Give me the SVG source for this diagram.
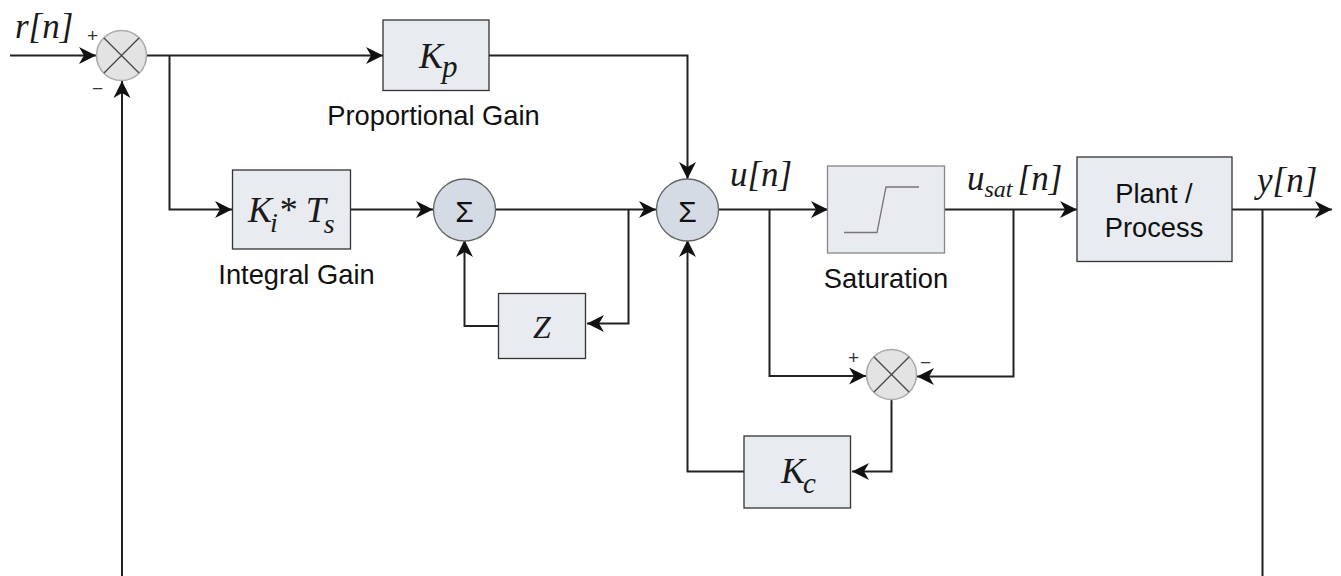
<svg xmlns="http://www.w3.org/2000/svg" width="1341" height="576" viewBox="0 0 1341 576">
<style>
.box{fill:#e8ebf0;stroke:#333;stroke-width:1.3}
.sat{fill:#e8ebf0;stroke:#888;stroke-width:1.3}
.sum{fill:#d5dbe5;stroke:#666;stroke-width:1.3}
.mix{fill:#e3e3e3;stroke:#aaa;stroke-width:1.5}
.x{stroke:#444;stroke-width:1.3;fill:none}
.w{fill:none;stroke:#222;stroke-width:2}
.m{font-family:"Liberation Serif",serif;font-style:italic;fill:#1a1a1a}
.t{font-family:"Liberation Sans",sans-serif;fill:#111;font-size:27.300px}
.p{font-family:"Liberation Sans",sans-serif;fill:#333;font-size:19px}
.s{font-family:"Liberation Sans",sans-serif;fill:#111;font-size:30px;text-anchor:middle}
</style>
<defs>
<marker id="a" markerUnits="userSpaceOnUse" markerWidth="20" markerHeight="20" refX="17" refY="10" orient="auto">
<path d="M0 1.500L17 10L0 18.500L5 10Z" fill="#111"/>
</marker>
</defs>
<rect width="1341" height="576" fill="#fff"/>
<g id="connectors" class="w">
<path d="M10 55.500H96" marker-end="url(#a)"/>
<path d="M147 55.500H383" marker-end="url(#a)"/>
<path d="M169.500 55.500V209.500H232" marker-end="url(#a)"/>
<path d="M122 576V81" marker-end="url(#a)"/>
<path d="M489 55.500H687.500V179" marker-end="url(#a)"/>
<path d="M351 209.500H433" marker-end="url(#a)"/>
<path d="M496 209.500H656" marker-end="url(#a)"/>
<path d="M628.500 209.500V323.500H587" marker-end="url(#a)"/>
<path d="M498 326H464.500V240" marker-end="url(#a)"/>
<path d="M719 209.500H828" marker-end="url(#a)"/>
<path d="M769.500 209.500V376H866" marker-end="url(#a)"/>
<path d="M945 209.500H1077" marker-end="url(#a)"/>
<path d="M1013.500 209.500V376.500H917" marker-end="url(#a)"/>
<path d="M891.500 400V471.500H852" marker-end="url(#a)"/>
<path d="M744 471.500H687.500V240" marker-end="url(#a)"/>
<path d="M1232 209.500H1332" marker-end="url(#a)"/>
<path d="M1262.500 209.500V576"/>
</g>
<g id="mixer-top"><circle class="mix" cx="121.500" cy="55.500" r="25"/><path class="x" d="M104 38L139 73M139 38L104 73"/><text class="p" x="87" y="42">+</text><text class="p" x="92" y="95">−</text></g>
<g id="kp"><rect class="box" x="383" y="20" width="106" height="70.500"/><text class="m" font-size="36" x="419" y="68">K<tspan font-size="31" dy="9" dx="-1">p</tspan></text></g>
<g id="ki"><rect class="box" x="232.500" y="170" width="118" height="79"/><text class="m" font-size="36" x="248" y="222">K<tspan font-size="28" dy="10" dx="-2">i</tspan><tspan dy="-10" font-style="normal" dx="2">*</tspan><tspan dx="8">T</tspan><tspan font-size="28" dy="11" dx="-2">s</tspan></text></g>
<g id="sum1"><circle class="sum" cx="464.500" cy="210" r="31"/><text class="s" x="464.500" y="222">Σ</text></g>
<g id="sum2"><circle class="sum" cx="687.500" cy="210" r="31"/><text class="s" x="687.500" y="222">Σ</text></g>
<g id="z"><rect class="box" x="498.500" y="293.500" width="87" height="65"/><text class="m" font-size="32" x="542" y="338" text-anchor="middle">Z</text></g>
<g id="saturation"><rect class="sat" x="827.500" y="166" width="117" height="87"/><path fill="none" stroke="#777" stroke-width="1.300" d="M844 232.500H877L886 187H919"/></g>
<g id="plant"><rect class="box" x="1077" y="157" width="155" height="104.500"/><text class="t" x="1154" y="203" text-anchor="middle">Plant /</text><text class="t" x="1154" y="237" text-anchor="middle">Process</text></g>
<g id="mixer-bottom"><circle class="mix" cx="891.500" cy="374.500" r="25"/><path class="x" d="M874 357L909 392M909 357L874 392"/><text class="p" x="848" y="364">+</text><text class="p" x="920" y="369">−</text></g>
<g id="kc"><rect class="box" x="744" y="436" width="106.500" height="72"/><text class="m" font-size="36" x="781" y="483">K<tspan font-size="29" dy="10" dx="-2">c</tspan></text></g>
<g id="labels">
<text class="m" font-size="35" x="15" y="38">r[n]</text>
<text class="m" font-size="35" x="730" y="186">u[n]</text>
<text class="m" font-size="35" x="967" y="190">u<tspan font-size="24" dy="7">sat</tspan><tspan dy="-7" dx="5">[n]</tspan></text>
<text class="m" font-size="35" x="1257" y="192">y[n]</text>
<text class="t" x="433.500" y="125" text-anchor="middle">Proportional Gain</text>
<text class="t" x="296.500" y="284" text-anchor="middle">Integral Gain</text>
<text class="t" x="886" y="288" text-anchor="middle">Saturation</text>
</g>
</svg>
